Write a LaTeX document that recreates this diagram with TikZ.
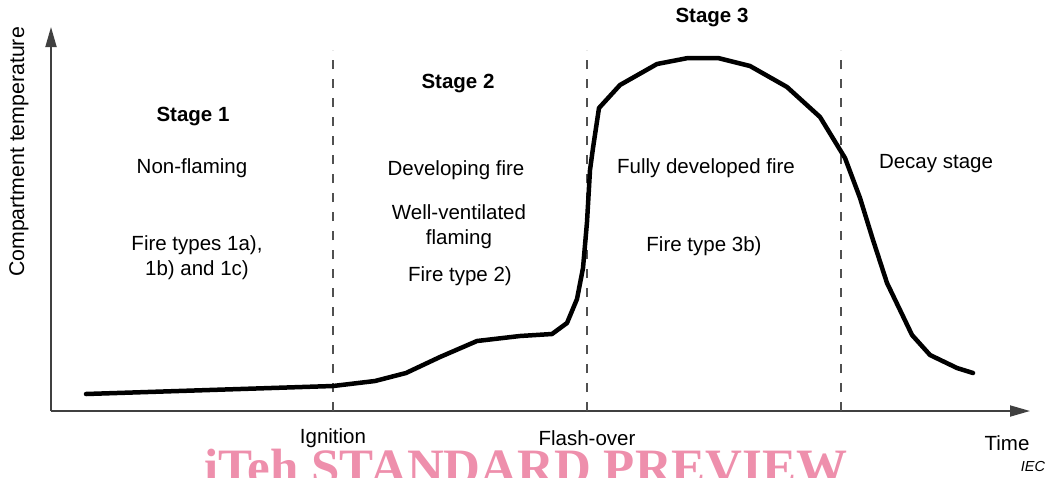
\documentclass[tikz,border=0pt]{standalone}
\usepackage{fontspec}
\setmainfont{Liberation Sans}
\newfontfamily\wmfont{Liberation Serif}
\usetikzlibrary{arrows.meta}
\definecolor{axisgray}{RGB}{64,64,64}
\definecolor{dashgray}{RGB}{80,80,80}
\definecolor{wmpink}{RGB}{238,143,172}
\begin{document}
\begin{tikzpicture}[x=1pt,y=-1pt,
  lbl/.style={font=\fontsize{20.5}{25}\selectfont, align=center, inner sep=0pt},
  stagelbl/.style={lbl, font=\fontsize{20.5}{25}\selectfont\bfseries},
  axisline/.style={draw=axisgray, line width=1.8pt, -{Triangle[length=20pt,width=11pt]}},
  stageline/.style={draw=dashgray, line width=1.6pt, dash pattern=on 9pt off 10pt},
  curveline/.style={draw=black, line width=4.5pt, line join=round, line cap=round}]
\useasboundingbox (0,0) rectangle (1051,477);
\clip (0,0) rectangle (1051,477);

% axes
\coordinate (origin) at (51,411);
\coordinate (ytip) at (51,27);
\coordinate (xtip) at (1030,411);
\draw[axisline] (origin) -- (ytip);
\draw[axisline] (origin) -- (xtip);

% stage boundaries
\coordinate (ign) at (333,411);
\coordinate (igntop) at (333,50);
\coordinate (fo) at (587,411);
\coordinate (fotop) at (587,50);
\coordinate (dec) at (841,411);
\coordinate (dectop) at (841,50);
\draw[stageline] (ign) -- (igntop);
\draw[stageline] (fo) -- (fotop);
\draw[stageline] (dec) -- (dectop);

% temperature curve
\draw[curveline] (86,394) -- (333,386) -- (375,381) -- (406,373) -- (440,357)
  -- (477,341) -- (520,336) -- (552,334) -- (567,323) -- (577,299)
  -- (583,268) -- (587,222) -- (590,170) -- (593,148) -- (599,108)
  -- (620,85) -- (657,64) -- (688,58) -- (718,58) -- (750,66)
  -- (787,87) -- (820,117) -- (845,158) -- (860,198) -- (873,240)
  -- (887,283) -- (900,310) -- (912,335) -- (930,355) -- (957,368)
  -- (973,373);

% labels
\node[lbl, rotate=90, font=\fontsize{21.3}{25}\selectfont] (ylabel) at (19,152) {Compartment temperature};
\node[lbl] (xlabel) at (1007,443) {Time};
\node[lbl] (ignlbl) at (333,438) {Ignition};
\node[lbl] (folbl) at (587,438) {Flash-over};
\node[inner sep=0pt, font=\fontsize{14.5}{16}\selectfont\itshape] (ieclbl) at (1033,466) {IEC};

\node[stagelbl] (s1) at (193,117) {Stage 1};
\node[lbl] (s1a) at (192,168) {Non-flaming};
\node[lbl] (s1b) at (197,258) {Fire types 1a),\\ 1b) and 1c)};

\node[stagelbl] (s2) at (458,84) {Stage 2};
\node[lbl] (s2a) at (456,170) {Developing fire};
\node[lbl] (s2b) at (459,227) {Well-ventilated\\flaming};
\node[lbl] (s2c) at (460,276) {Fire type 2)};

\node[stagelbl] (s3) at (712,18) {Stage 3};
\node[lbl] (s3a) at (706,168) {Fully developed fire};
\node[lbl] (s3b) at (704,246) {Fire type 3b)};

\node[lbl] (s4) at (936,164) {Decay stage};

% preview watermark
\node[anchor=base, inner sep=0pt, text=wmpink,
  font=\fontsize{51}{51}\selectfont\wmfont\bfseries] (wm) at (526,484) {iTeh STANDARD PREVIEW};
\end{tikzpicture}
\end{document}
